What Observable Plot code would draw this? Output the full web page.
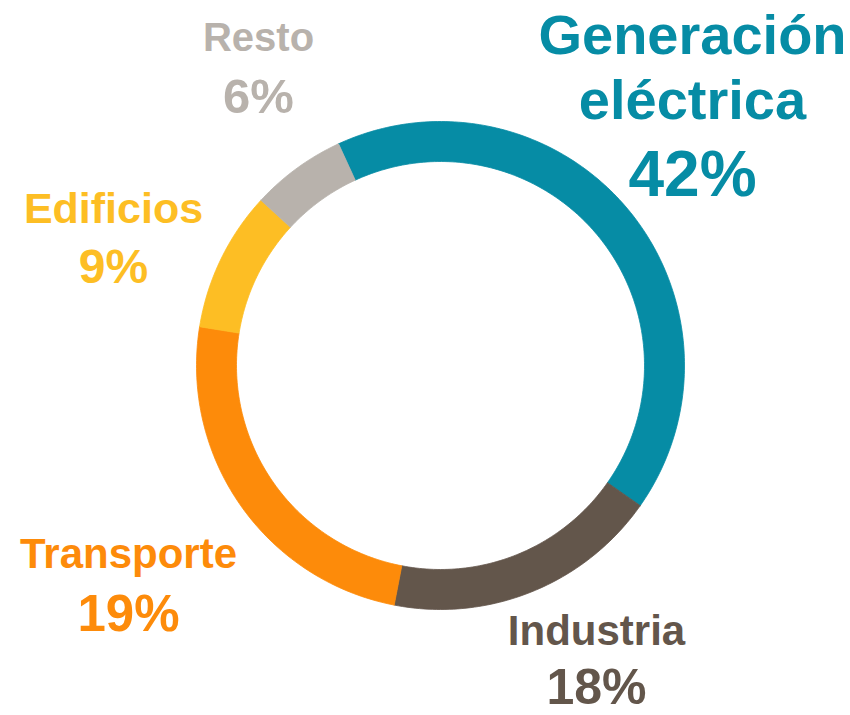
<!DOCTYPE html>
<html><head><meta charset="utf-8">
<script src="https://cdn.jsdelivr.net/npm/d3@7"></script>
<script src="https://cdn.jsdelivr.net/npm/@observablehq/plot@0.6"></script>
<style>body{margin:0;background:#fff}</style>
</head><body><div id="chart"></div>
<script>
// Data
const categories = ["Generación eléctrica", "Industria", "Transporte", "Edificios", "Resto"];
const shares = [41.6, 18.3, 24.5, 9.3, 6.3];          // arc sizes as drawn
const pctLabels = ["42%", "18%", "19%", "9%", "6%"];  // printed labels
const nameLines = [["Generación", "eléctrica"], ["Industria"], ["Transporte"], ["Edificios"], ["Resto"]];
const colors = ["#068ca5", "#63564b", "#fd8b0a", "#fdbe24", "#b8b2ac"];

// Layout (pixels)
const W = 850, H = 715;
const cx = 440, cy = 365, R = 244, r = 204;
const startDeg = -24.7;
const labelLayout = [
  {x: 692, nameBase: [53, 118], nameSize: 56, pctBase: 195, pctSize: 64},
  {x: 596, nameBase: [644], nameSize: 42, pctBase: 703, pctSize: 50},
  {x: 128, nameBase: [567], nameSize: 42, pctBase: 630, pctSize: 51},
  {x: 113, nameBase: [222], nameSize: 43, pctBase: 282, pctSize: 48},
  {x: 258, nameBase: [50], nameSize: 40, pctBase: 112, pctSize: 49}
];

const total = d3.sum(shares);
const marks = [];
let acc = 0;
shares.forEach((s, i) => {
  const a0 = (startDeg + acc / total * 360) * Math.PI / 180;
  acc += s;
  const a1 = (startDeg + acc / total * 360) * Math.PI / 180;
  const n = Math.max(8, Math.ceil((a1 - a0) * 180 / Math.PI));
  const pts = [];
  for (let k = 0; k <= n; k++) {
    const a = a0 + (a1 - a0) * k / n;
    pts.push({x: cx + R * Math.sin(a), y: cy - R * Math.cos(a)});
  }
  for (let k = n; k >= 0; k--) {
    const a = a0 + (a1 - a0) * k / n;
    pts.push({x: cx + r * Math.sin(a), y: cy - r * Math.cos(a)});
  }
  pts.push(pts[0]);
  marks.push(Plot.line(pts, {x: "x", y: "y", fill: colors[i], stroke: colors[i], strokeWidth: 0.8, curve: "linear"}));
});

categories.forEach((c, i) => {
  const L = labelLayout[i];
  nameLines[i].forEach((t, j) => {
    marks.push(Plot.text([t], {x: () => L.x, y: () => L.nameBase[j], text: d => d,
      fill: colors[i], fontSize: L.nameSize, fontWeight: "bold", lineAnchor: "bottom", textAnchor: "middle"}));
  });
  marks.push(Plot.text([pctLabels[i]], {x: () => L.x, y: () => L.pctBase, text: d => d,
    fill: colors[i], fontSize: L.pctSize, fontWeight: "bold", lineAnchor: "bottom", textAnchor: "middle"}));
});

const chart = Plot.plot({
  width: W, height: H,
  margin: 0,
  x: {domain: [0, W], range: [0, W], axis: null},
  y: {domain: [0, H], range: [0, H], axis: null},
  style: {fontFamily: "'Liberation Sans', Arial, sans-serif", background: "#fff"},
  marks
});
document.getElementById("chart").appendChild(chart);
</script>
</body></html>
